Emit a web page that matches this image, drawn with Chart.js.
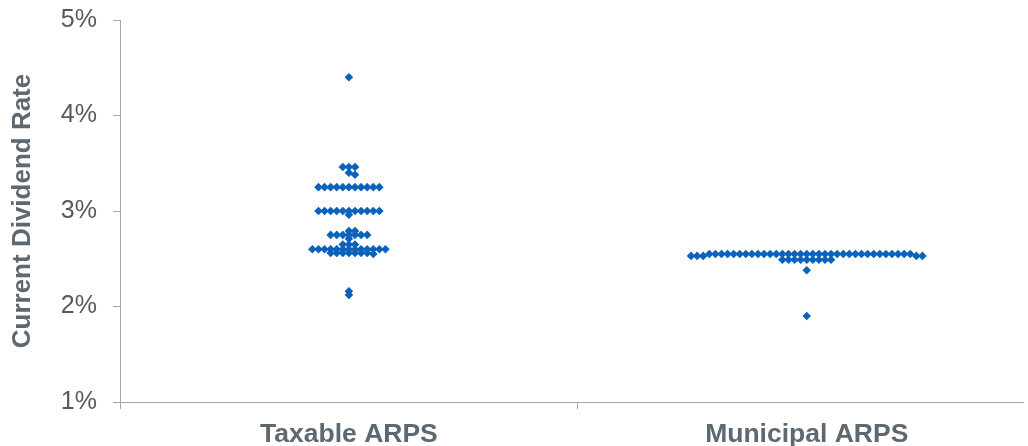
<!DOCTYPE html>
<html lang="en">
<head>
    <meta charset="UTF-8">
    <title>Current Dividend Rate</title>
    <style>
        body {
            margin: 0;
            padding: 0;
            background-color: #ffffff;
        }
        canvas {
            display: block;
        }
    </style>
    <script src="https://cdn.jsdelivr.net/npm/chart.js"></script>
</head>
<body>
    <canvas id="rateChart" width="1028" height="446"></canvas>

    <script>
        // Categories and tick labels
        const categories = ['Taxable ARPS', 'Municipal ARPS'];
        const yTicks = [1, 2, 3, 4, 5];

        // Current dividend rate (%) of each issue
        const taxableRates = [
            4.40,
            3.46, 3.46, 3.46, 3.40, 3.38,
            3.25, 3.25, 3.25, 3.25, 3.25, 3.25, 3.25, 3.25, 3.25, 3.25, 3.25,
            3.00, 3.00, 3.00, 3.00, 3.00, 3.00, 3.00, 3.00, 3.00, 3.00, 3.00, 2.96,
            2.79, 2.79, 2.75, 2.75, 2.75, 2.75, 2.75, 2.75, 2.75, 2.71,
            2.65, 2.65, 2.65,
            2.60, 2.60, 2.60, 2.60, 2.60, 2.60, 2.60, 2.60, 2.60, 2.60, 2.60, 2.60, 2.60,
            2.56, 2.56, 2.56, 2.56, 2.56, 2.56, 2.56, 2.55,
            2.16, 2.12
        ];
        const municipalRates = [
            2.55, 2.55, 2.55, 2.55, 2.55, 2.55, 2.55, 2.55, 2.55, 2.55,
            2.55, 2.55, 2.55, 2.55, 2.55, 2.55, 2.55, 2.55, 2.55, 2.55,
            2.55, 2.55, 2.55, 2.55, 2.55, 2.55, 2.55, 2.55, 2.55, 2.55,
            2.55, 2.55, 2.55, 2.55,
            2.53, 2.53, 2.53, 2.53, 2.53,
            2.49, 2.49, 2.49, 2.49, 2.49, 2.49, 2.49, 2.49, 2.49,
            2.38,
            1.90
        ];

        // simple beeswarm: put each point in the nearest free slot around the category centre
        function swarm(values, centre) {
            const step = 0.0133;
            const placed = [];
            return values.slice().sort((a, b) => b - a).map(v => {
                for (let k = 0; k < 400; k++) {
                    const off = (k % 2 ? 1 : -1) * Math.ceil(k / 2) * step;
                    const x = centre + off;
                    const hit = placed.some(p => Math.abs(p.y - v) < 0.03 && Math.abs(p.x - x) < step * 0.99);
                    if (!hit) {
                        const pt = { x: x, y: v };
                        placed.push(pt);
                        return pt;
                    }
                }
            });
        }

        const axisGrey = '#a6a6a6';
        const font = "'Liberation Sans', Arial, sans-serif";

        const ctx = document.getElementById('rateChart').getContext('2d');
        const rateChart = new Chart(ctx, {
            type: 'scatter',
            data: {
                datasets: [
                    {
                        label: categories[0],
                        data: swarm(taxableRates, 0.5),
                    },
                    {
                        label: categories[1],
                        data: swarm(municipalRates, 1.5),
                    }
                ]
            },
            options: {
                responsive: false,
                animation: false,
                layout: {
                    padding: { top: 20, right: 0, bottom: 0, left: 0 }
                },
                elements: {
                    point: {
                        pointStyle: 'rectRot',
                        radius: 4.3,
                        backgroundColor: '#0b62bb',
                        borderColor: '#0b62bb',
                        borderWidth: 0
                    }
                },
                plugins: {
                    legend: { display: false },
                    tooltip: { enabled: false }
                },
                scales: {
                    x: {
                        type: 'linear',
                        min: 0,
                        max: 908 / 460,
                        afterBuildTicks: axis => {
                            axis.ticks = [0, 0.5, 1, 1.5].map(v => ({ value: v }));
                        },
                        afterFit: axis => { axis.height = 44; },
                        border: { color: axisGrey, width: 1 },
                        grid: {
                            drawOnChartArea: false,
                            tickLength: 7,
                            tickColor: c => (c.tick && c.tick.value % 1 === 0) ? axisGrey : 'rgba(0,0,0,0)'
                        },
                        ticks: {
                            autoSkip: false,
                            maxRotation: 0,
                            padding: 10,
                            color: '#5d6871',
                            font: { family: font, size: 26.5, weight: 'bold' },
                            callback: v => v === 0.5 ? categories[0] : (v === 1.5 ? categories[1] : '')
                        }
                    },
                    y: {
                        min: 1,
                        max: 5,
                        afterBuildTicks: axis => {
                            axis.ticks = yTicks.map(v => ({ value: v }));
                        },
                        afterFit: axis => {
                            axis.width = 120;
                            axis.paddingTop = 0;
                            axis.paddingBottom = 0;
                        },
                        border: { color: axisGrey, width: 1 },
                        grid: {
                            drawOnChartArea: false,
                            tickLength: 7,
                            tickColor: axisGrey
                        },
                        title: {
                            display: true,
                            text: 'Current Dividend Rate',
                            color: '#5d6871',
                            font: { family: font, size: 26, weight: 'bold' },
                            padding: { top: 7, bottom: 4 }
                        },
                        ticks: {
                            padding: 16,
                            color: '#595959',
                            font: { family: font, size: 25 },
                            callback: v => v + '%'
                        }
                    }
                }
            }
        });
    </script>
</body>
</html>
